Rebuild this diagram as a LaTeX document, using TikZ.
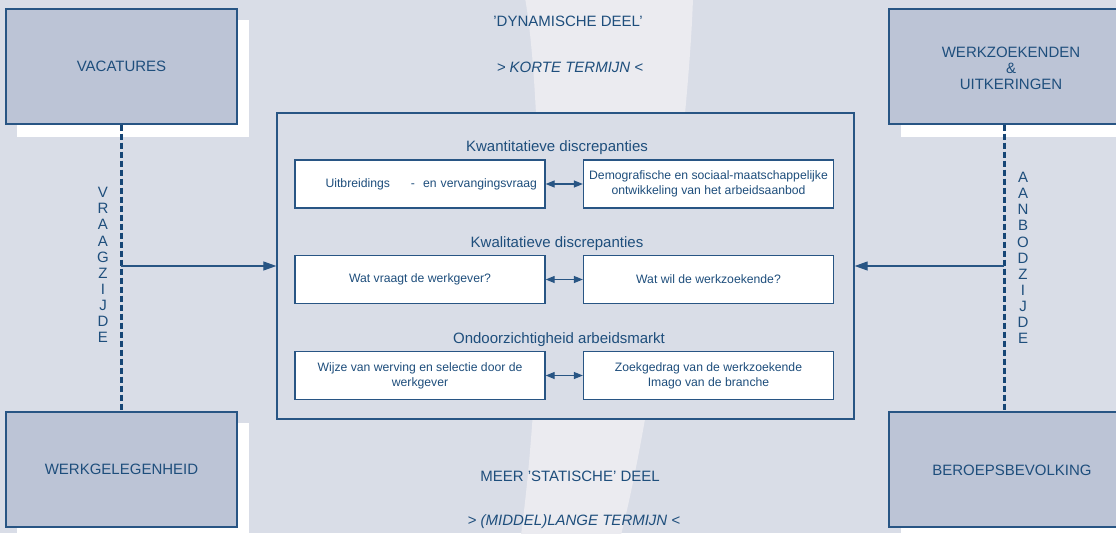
\documentclass[tikz,border=0pt]{standalone}
\usepackage{fontspec}
\setmainfont{Liberation Sans}
\usetikzlibrary{arrows.meta}
\definecolor{bgc}{RGB}{217,221,231}
\definecolor{bandc}{RGB}{235,235,240}
\definecolor{boxfill}{RGB}{188,196,214}
\definecolor{linec}{RGB}{40,85,132}
\definecolor{dashc}{RGB}{22,70,118}
\definecolor{txtc}{RGB}{30,78,124}
\tikzset{
  cornerbox/.style={draw=linec, line width=1.2pt, fill=boxfill, minimum width=231pt, minimum height=115pt, inner sep=0pt, text=txtc, font=\fontsize{15}{16}\selectfont, align=center},
  shadowbox/.style={fill=white, draw=none, minimum width=232pt, minimum height=117pt, inner sep=0pt},
  mainbox/.style={draw=linec, line width=1.4pt, fill=bgc, minimum width=577pt, minimum height=306pt, inner sep=0pt},
  innerbox/.style={draw=linec, line width=1.3pt, fill=white, minimum width=250pt, minimum height=48pt, inner sep=0pt, text=txtc, font=\fontsize{12.2}{15}\selectfont, align=center},
  bigtxt/.style={text=txtc, font=\fontsize{15}{16}\selectfont, inner sep=0pt},
  headtxt/.style={text=txtc, font=\fontsize{15}{16}\selectfont, inner sep=0pt, anchor=base},
  lettercol/.style={text=txtc, font=\fontsize{15}{16.1}\selectfont, inner sep=0pt, align=center},
  dashline/.style={draw=dashc, line width=2.6pt, dash pattern=on 6pt off 3pt},
  sidearrow/.style={draw=linec, line width=1.2pt, -{Triangle[length=13pt,width=9pt]}},
  dblarrow/.style={draw=linec, line width=1.2pt, {Triangle[length=9pt,width=7pt]}-{Triangle[length=9pt,width=7pt]}}
}
\begin{document}
\begin{tikzpicture}[x=1pt,y=-1pt]
\useasboundingbox (0,0) rectangle (1116,533);
\fill[bgc] (0,0) rectangle (1116,533);
% light band
\fill[bandc] (525,-2) .. controls (540,80) and (548,330) .. (521,535)
  -- (621,535) .. controls (660,380) and (690,100) .. (693,-2) -- cycle;
% shadows
\node[shadowbox, anchor=north west] (shtl) at (17,20) {};
\node[shadowbox, anchor=north west] (shbl) at (17,423) {};
\node[shadowbox, anchor=north west] (shtr) at (901,20) {};
\node[shadowbox, anchor=north west] (shbr) at (901,423) {};
% corner boxes
\node[cornerbox] (vac) at (121.5,66.5) {VACATURES};
\node[cornerbox] (wgh) at (121.5,469.5) {WERKGELEGENHEID};
\node[cornerbox] (wzk) at (1004.5,66.5) {};
\node[cornerbox] (bbv) at (1004.5,469.5) {};
\node[bigtxt, align=center] (wzktxt) at (1011,68) {WERKZOEKENDEN\\\&\\UITKERINGEN};
\node[bigtxt] (bbvtxt) at (1012,470) {BEROEPSBEVOLKING};
% dashed lines
\draw[dashline] (vac.south) -- (wgh.north);
\draw[dashline] (wzk.south) -- (bbv.north);
% letter columns
\node[lettercol] (vz) at (103,265) {V\\R\\A\\A\\G\\Z\\I\\J\\D\\E};
\node[lettercol] (az) at (1023,258) {A\\A\\N\\B\\O\\D\\Z\\I\\J\\D\\E};
% top and bottom texts
\node[headtxt] (dyn) at (568,26) {'DYNAMISCHE DEEL'};
\node[headtxt] (kort) at (570,72) {\itshape > KORTE TERMIJN <};
\node[headtxt] (stat) at (570,481) {MEER 'STATISCHE' DEEL};
\node[headtxt] (lang) at (574,525) {\itshape > (MIDDEL)LANGE TERMIJN <};
% main box
\node[mainbox] (main) at (565.5,266) {};
\node[headtxt] (h1) at (557,151) {Kwantitatieve discrepanties};
\node[headtxt] (h2) at (557,247) {Kwalitatieve discrepanties};
\node[headtxt] (h3) at (559,343) {Ondoorzichtigheid arbeidsmarkt};
% inner boxes
\node[innerbox, text width=234pt, inner xsep=8pt, align=right] (a1) at (420,184) {Uitbreidings\hspace{21pt}-\hspace{8pt}en vervangingsvraag};
\node[innerbox] (b1) at (708.5,184) {Demografische en sociaal-maatschappelijke\\ontwikkeling van het arbeidsaanbod};
\node[innerbox] (a2) at (420,279.5) {Wat vraagt de werkgever?};
\node[innerbox] (b2) at (708.5,279.5) {Wat wil de werkzoekende?};
\node[innerbox] (a3) at (420,375.5) {Wijze van werving en selectie door de\\werkgever};
\node[innerbox] (b3) at (708.5,375.5) {Zoekgedrag van de werkzoekende\\Imago van de branche};
\draw[dblarrow] (a1.east) -- (b1.west);
\draw[dblarrow] (a2.east) -- (b2.west);
\draw[dblarrow] (a3.east) -- (b3.west);
% side arrows
\coordinate (lj) at (121,266);
\coordinate (rj) at (1004,266);
\draw[sidearrow] (lj) -- (main.west);
\draw[sidearrow] (rj) -- (main.east);
\end{tikzpicture}
\end{document}
